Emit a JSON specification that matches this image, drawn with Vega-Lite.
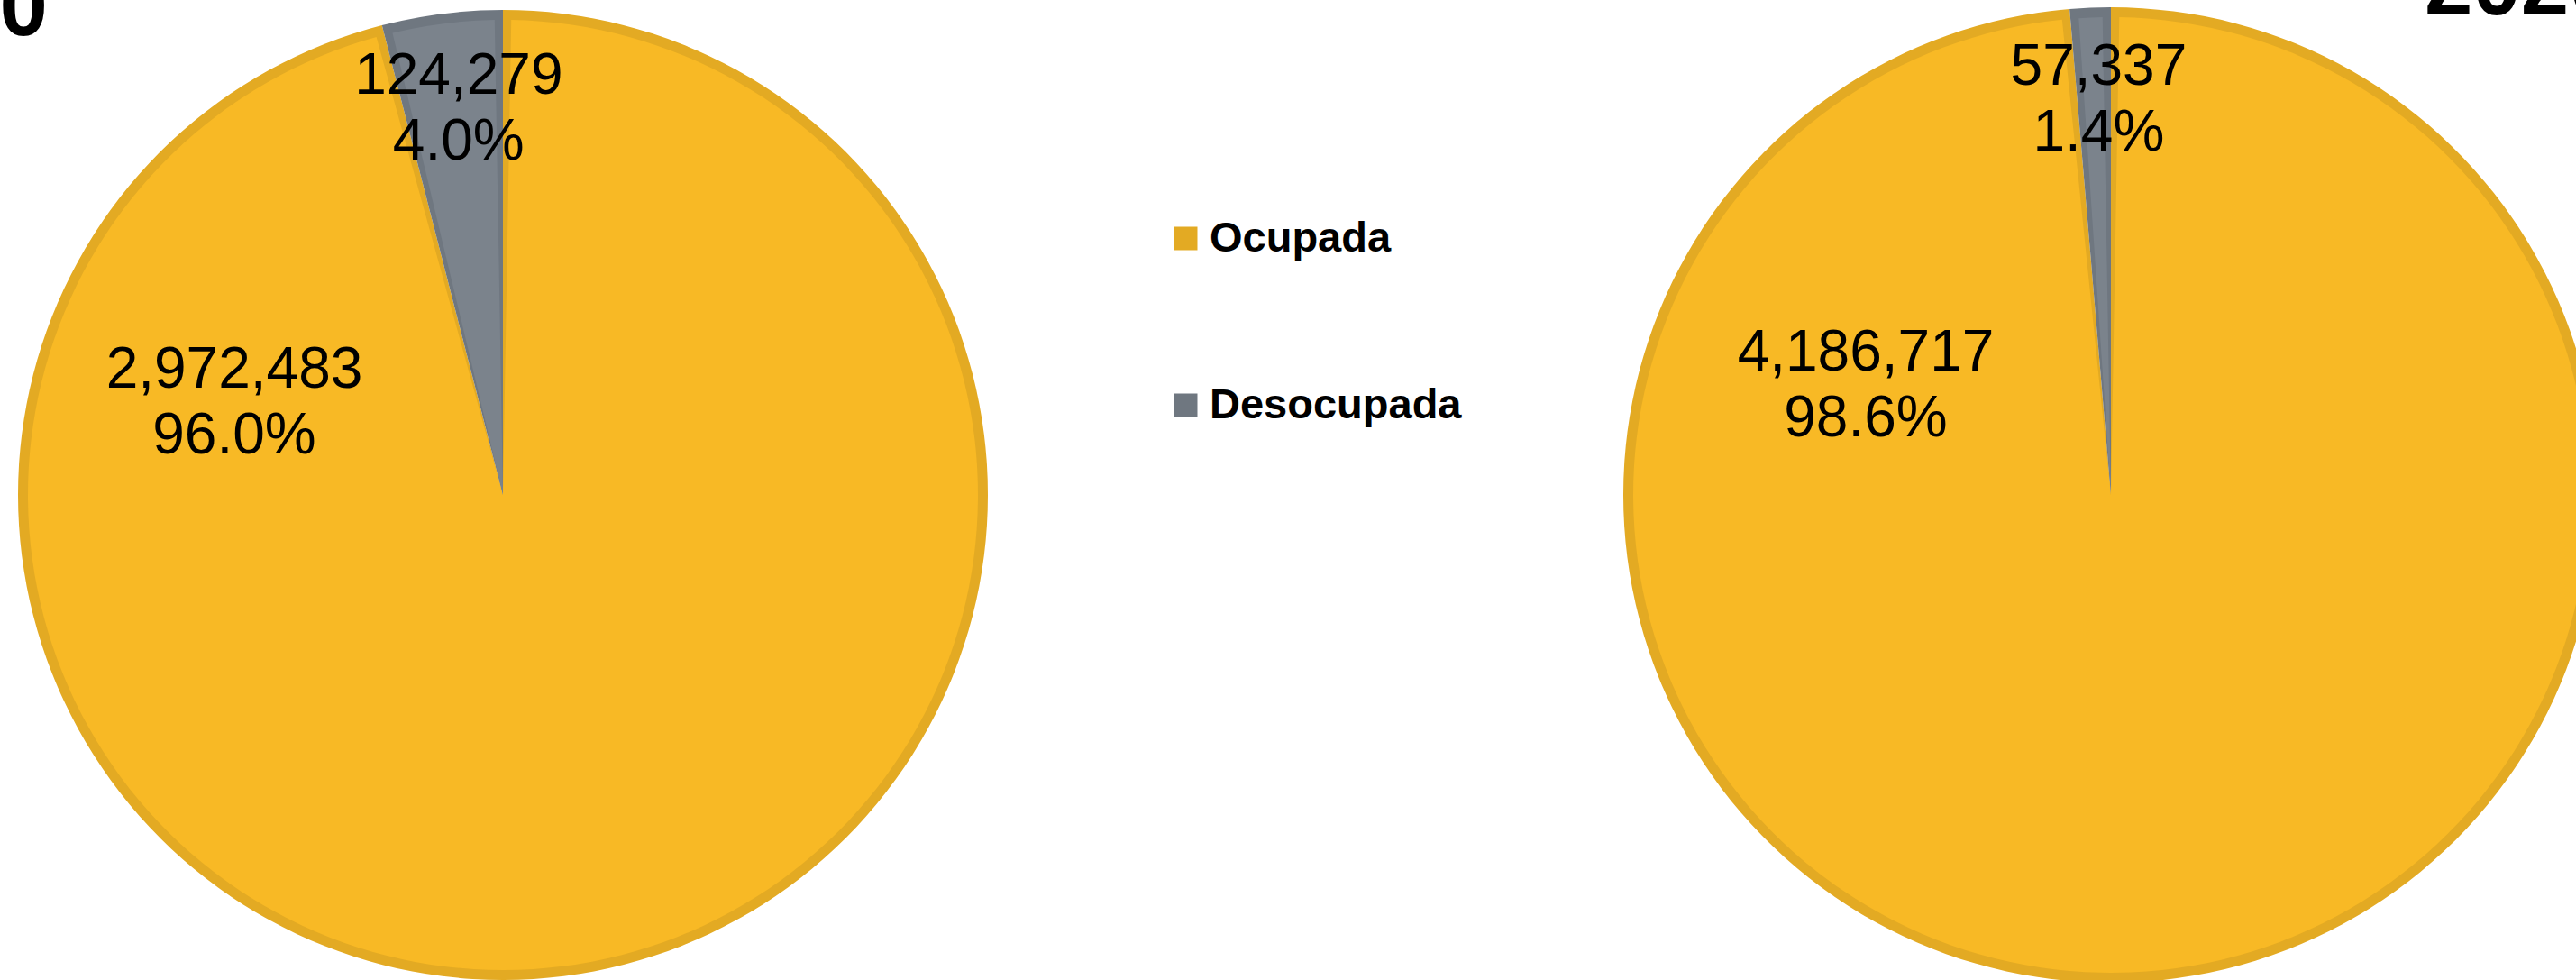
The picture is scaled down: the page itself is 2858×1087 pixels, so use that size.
{
  "$schema": "https://vega.github.io/schema/vega-lite/v6.json",
  "padding": {"left": -161, "top": -61, "right": 0, "bottom": 0},
  "background": "white",
  "spacing": 685,
  "bounds": "flush",
  "resolve": {"scale": {"theta": "independent"}},
  "config": {"view": {"stroke": null}, "font": "Liberation Sans"},
  "data": {
    "values": [
      {"anio": "2010", "categoria": "Ocupada", "valor": 2972483, "pct": 0.96},
      {"anio": "2010", "categoria": "Desocupada", "valor": 124279, "pct": 0.04},
      {"anio": "2020", "categoria": "Ocupada", "valor": 4186717, "pct": 0.986},
      {"anio": "2020", "categoria": "Desocupada", "valor": 57337, "pct": 0.014}
    ]
  },
  "hconcat": [
    {
      "width": 1116,
      "height": 1094,
      "transform": [
        {"filter": "datum.anio == '2010'"},
        {"calculate": "[format(datum.valor, ','), format(datum.pct, '.1%')]", "as": "etiqueta"}
      ],
      "title": {"text": "2010", "anchor": "start", "frame": "group", "align": "right", "dx": 53, "offset": -133, "baseline": "alphabetic", "fontSize": 96, "font": "Liberation Sans", "fontWeight": "bold", "color": "#000000"},
      "layer": [
        {
          "mark": {"type": "arc", "outerRadius": 538},
          "encoding": {
            "theta": {"field": "valor", "type": "quantitative", "stack": true},
            "order": {"field": "categoria", "sort": "descending"},
            "color": {"field": "categoria", "type": "nominal",
              "scale": {"domain": ["Ocupada", "Desocupada"], "range": ["#E3AA23", "#6F7780"]},
              "legend": {"title": null, "orient": "none", "legendX": 1292, "legendY": 239, "direction": "vertical", "symbolType": "square", "symbolSize": 676, "symbolStrokeWidth": 0, "labelFont": "Liberation Sans", "labelFontWeight": "bold", "labelFontSize": 47, "labelColor": "#000000", "labelOffset": 3, "rowPadding": 137, "padding": 0, "labelLimit": 0}}
          }
        },
        {
          "mark": {"type": "arc", "outerRadius": 527, "padAngle": 0.035},
          "encoding": {
            "theta": {"field": "valor", "type": "quantitative", "stack": true},
            "order": {"field": "categoria", "sort": "descending"},
            "fill": {"field": "categoria", "type": "nominal",
              "scale": {"domain": ["Ocupada", "Desocupada"], "range": ["#F8B925", "#7B838C"]},
              "legend": null}
          }
        },
        {
          "mark": {"type": "text", "radius": 431, "dx": 5, "dy": -36.5, "fontSize": 64, "font": "Liberation Sans", "lineHeight": 73, "align": "center", "baseline": "middle", "color": "#000000"},
          "encoding": {
            "theta": {"field": "valor", "type": "quantitative", "stack": true},
            "order": {"field": "categoria", "sort": "descending"},
            "detail": {"field": "categoria"},
            "text": {"field": "etiqueta"},
            "opacity": {"condition": {"test": "datum.categoria == 'Ocupada'", "value": 0}, "value": 1}
          }
        },
        {
          "transform": [{"filter": "datum.categoria == 'Ocupada'"}],
          "mark": {"type": "text", "dx": -298, "dy": -138, "fontSize": 64, "font": "Liberation Sans", "lineHeight": 73, "align": "center", "baseline": "middle", "color": "#000000"},
          "encoding": {"text": {"field": "etiqueta"}}
        }
      ]
    },
    {
      "width": 1082,
      "height": 1094,
      "transform": [
        {"filter": "datum.anio == '2020'"},
        {"calculate": "[format(datum.valor, ','), format(datum.pct, '.1%')]", "as": "etiqueta"}
      ],
      "title": {"text": "2020", "anchor": "start", "frame": "group", "align": "left", "dx": 889, "offset": -110, "baseline": "alphabetic", "fontSize": 96, "font": "Liberation Sans", "fontWeight": "bold", "color": "#000000"},
      "layer": [
        {
          "mark": {"type": "arc", "outerRadius": 541},
          "encoding": {
            "theta": {"field": "valor", "type": "quantitative", "stack": true},
            "order": {"field": "categoria", "sort": "descending"},
            "color": {"field": "categoria", "type": "nominal",
              "scale": {"domain": ["Ocupada", "Desocupada"], "range": ["#E3AA23", "#6F7780"]}}
          }
        },
        {
          "mark": {"type": "arc", "outerRadius": 530, "padAngle": 0.035},
          "encoding": {
            "theta": {"field": "valor", "type": "quantitative", "stack": true},
            "order": {"field": "categoria", "sort": "descending"},
            "fill": {"field": "categoria", "type": "nominal",
              "scale": {"domain": ["Ocupada", "Desocupada"], "range": ["#F8B925", "#7B838C"]},
              "legend": null}
          }
        },
        {
          "mark": {"type": "text", "radius": 438, "dx": 5, "dy": -36.5, "fontSize": 64, "font": "Liberation Sans", "lineHeight": 73, "align": "center", "baseline": "middle", "color": "#000000"},
          "encoding": {
            "theta": {"field": "valor", "type": "quantitative", "stack": true},
            "order": {"field": "categoria", "sort": "descending"},
            "detail": {"field": "categoria"},
            "text": {"field": "etiqueta"},
            "opacity": {"condition": {"test": "datum.categoria == 'Ocupada'", "value": 0}, "value": 1}
          }
        },
        {
          "transform": [{"filter": "datum.categoria == 'Ocupada'"}],
          "mark": {"type": "text", "dx": -272, "dy": -157, "fontSize": 64, "font": "Liberation Sans", "lineHeight": 73, "align": "center", "baseline": "middle", "color": "#000000"},
          "encoding": {"text": {"field": "etiqueta"}}
        }
      ]
    }
  ]
}
